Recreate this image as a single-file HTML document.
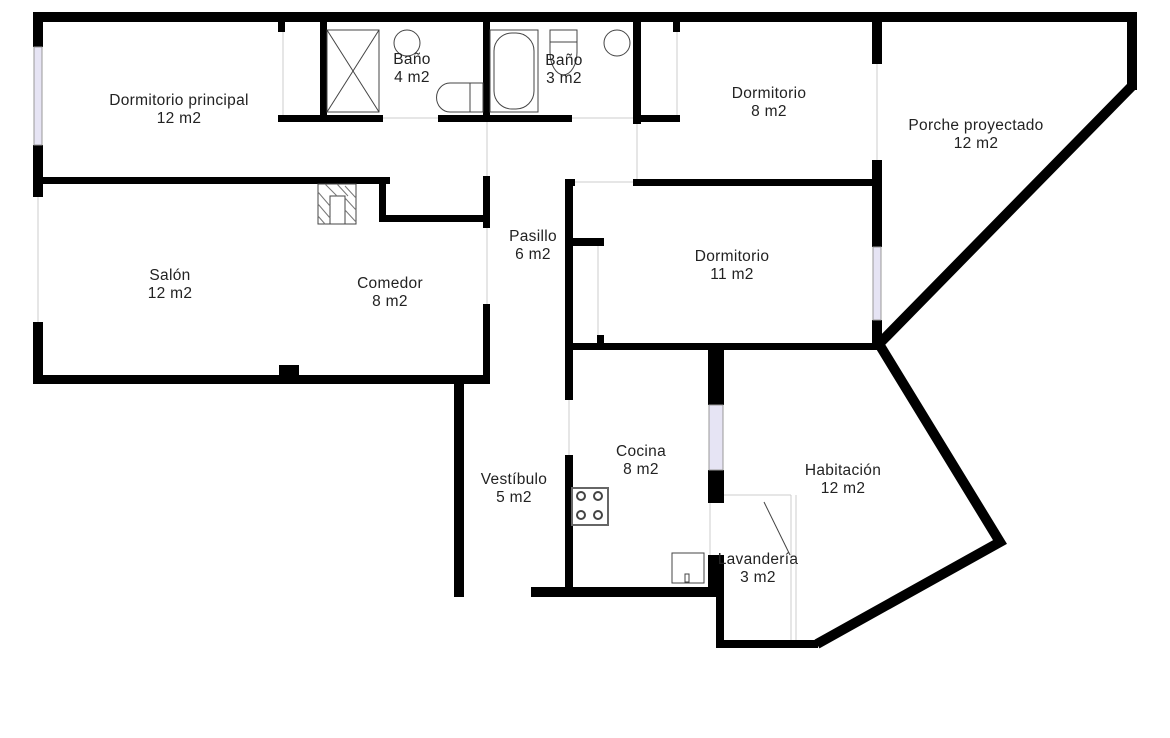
<!DOCTYPE html>
<html><head><meta charset="utf-8"><style>
html,body{margin:0;padding:0;background:#fff;}
svg{display:block;}
text{font-family:"Liberation Sans",sans-serif;font-size:15.5px;fill:#222;text-anchor:middle;letter-spacing:0.3px;}
</style></head><body>
<svg width="1170" height="738" viewBox="0 0 1170 738" xmlns="http://www.w3.org/2000/svg">
<rect width="1170" height="738" fill="#fff"/>
<g fill="#000">
<rect x="33" y="12" width="1104" height="10"/>
<rect x="1127" y="12" width="10" height="78"/>
<rect x="33" y="12" width="10" height="35"/>
<rect x="33" y="145" width="10" height="52"/>
<rect x="33" y="322" width="10" height="62"/>
<rect x="33" y="375" width="457" height="9"/>
<rect x="279" y="365" width="20" height="19"/>
<rect x="43" y="177" width="347" height="7"/>
<rect x="379" y="177" width="7" height="45"/>
<rect x="379" y="215" width="111" height="7"/>
<rect x="483" y="176" width="7" height="52"/>
<rect x="483" y="304" width="7" height="80"/>
<rect x="278" y="22" width="7" height="10"/>
<rect x="278" y="115" width="105" height="7"/>
<rect x="320" y="22" width="7" height="100"/>
<rect x="438" y="115" width="134" height="7"/>
<rect x="483" y="22" width="7" height="100"/>
<rect x="633" y="22" width="8" height="102"/>
<rect x="633" y="115" width="47" height="7"/>
<rect x="673" y="22" width="7" height="10"/>
<rect x="454" y="376" width="10" height="221"/>
<rect x="531" y="587" width="190" height="10"/>
<rect x="565" y="179" width="8" height="221"/>
<rect x="565" y="455" width="8" height="135"/>
<rect x="565" y="179" width="10" height="7"/>
<rect x="633" y="179" width="249" height="7"/>
<rect x="573" y="238" width="31" height="8"/>
<rect x="597" y="335" width="7" height="10"/>
<rect x="565" y="343" width="317" height="7"/>
<rect x="872" y="22" width="10" height="42"/>
<rect x="872" y="160" width="10" height="87"/>
<rect x="872" y="320" width="10" height="28"/>
<rect x="708" y="345" width="16" height="60"/>
<rect x="708" y="470" width="16" height="33"/>
<rect x="708" y="555" width="16" height="42"/>
<rect x="716" y="590" width="8" height="58"/>
<rect x="716" y="640" width="102" height="8"/>
</g>
<g stroke="#000" stroke-width="10" fill="none" stroke-linejoin="miter">
<polyline points="1132,86 879,344 1000,542 817,644"/>
</g>
<g fill="#e6e4f4" stroke="#999" stroke-width="1">
<rect x="34" y="47" width="8" height="98"/>
<rect x="873" y="247" width="8" height="73"/>
<rect x="709" y="405" width="14" height="65"/>
</g>
<g stroke="#ccc" stroke-width="1" fill="none">
<line x1="38" y1="197" x2="38" y2="322"/>
<line x1="283" y1="32" x2="283" y2="115"/>
<line x1="677" y1="32" x2="677" y2="115"/>
<line x1="383" y1="118" x2="438" y2="118"/>
<line x1="572" y1="118" x2="633" y2="118"/>
<line x1="487" y1="122" x2="487" y2="176"/>
<line x1="637" y1="124" x2="637" y2="179"/>
<line x1="575" y1="182" x2="633" y2="182"/>
<line x1="487" y1="228" x2="487" y2="304"/>
<line x1="569" y1="400" x2="569" y2="455"/>
<line x1="598" y1="246" x2="598" y2="335"/>
<line x1="877" y1="64" x2="877" y2="160"/>
<line x1="710" y1="503" x2="710" y2="555"/>
<line x1="724" y1="495" x2="791" y2="495"/>
<line x1="791" y1="495" x2="791" y2="640"/>
<line x1="796" y1="495" x2="796" y2="640"/>
</g>
<g stroke="#444" stroke-width="1" fill="none">
<rect x="327" y="30" width="52" height="82"/>
<line x1="327" y1="30" x2="379" y2="112"/><line x1="379" y1="30" x2="327" y2="112"/>
<circle cx="407" cy="43" r="13"/>
<rect x="470" y="83" width="13" height="29"/>
<path d="M470,83 h-20 a13,14 0 0 0 0,29 h20"/>
<rect x="490" y="30" width="48" height="82"/>
<rect x="494" y="33" width="40" height="76" rx="18"/>
<rect x="550" y="30" width="27" height="12"/>
<path d="M550,42 v10 a13,22 0 0 0 27,0 v-10"/>
<circle cx="617" cy="43" r="13"/>
<rect x="572" y="488" width="36" height="37" stroke="#666" stroke-width="2"/>
<circle cx="581" cy="496" r="4" stroke-width="2"/><circle cx="598" cy="496" r="4" stroke-width="2"/>
<circle cx="581" cy="515" r="4" stroke-width="2"/><circle cx="598" cy="515" r="4" stroke-width="2"/>
<rect x="672" y="553" width="32" height="30"/>
<rect x="685" y="574" width="4" height="8"/>
<line x1="764" y1="502" x2="790" y2="555"/>
<rect x="318" y="184" width="38" height="40"/>
<rect x="330" y="196" width="15" height="28"/>
</g>
<g stroke="#777" stroke-width="1">
<line x1="318" y1="192" x2="330" y2="206"/><line x1="318" y1="204" x2="330" y2="218"/><line x1="318" y1="216" x2="325" y2="224"/>
<line x1="345" y1="186" x2="356" y2="198"/><line x1="345" y1="198" x2="356" y2="210"/><line x1="345" y1="210" x2="356" y2="222"/>
<line x1="325" y1="184" x2="337" y2="196"/><line x1="337" y1="184" x2="348" y2="196"/>
</g>
<text x="179" y="105">Dormitorio principal</text><text x="179" y="123">12 m2</text>
<text x="412" y="64">Baño</text><text x="412" y="82">4 m2</text>
<text x="564" y="65">Baño</text><text x="564" y="83">3 m2</text>
<text x="769" y="98">Dormitorio</text><text x="769" y="116">8 m2</text>
<text x="976" y="130">Porche proyectado</text><text x="976" y="148">12 m2</text>
<text x="533" y="241">Pasillo</text><text x="533" y="259">6 m2</text>
<text x="732" y="261">Dormitorio</text><text x="732" y="279">11 m2</text>
<text x="170" y="280">Salón</text><text x="170" y="298">12 m2</text>
<text x="390" y="288">Comedor</text><text x="390" y="306">8 m2</text>
<text x="641" y="456">Cocina</text><text x="641" y="474">8 m2</text>
<text x="514" y="484">Vestíbulo</text><text x="514" y="502">5 m2</text>
<text x="843" y="475">Habitación</text><text x="843" y="493">12 m2</text>
<text x="758" y="564">Lavandería</text><text x="758" y="582">3 m2</text>
</svg>
</body></html>
